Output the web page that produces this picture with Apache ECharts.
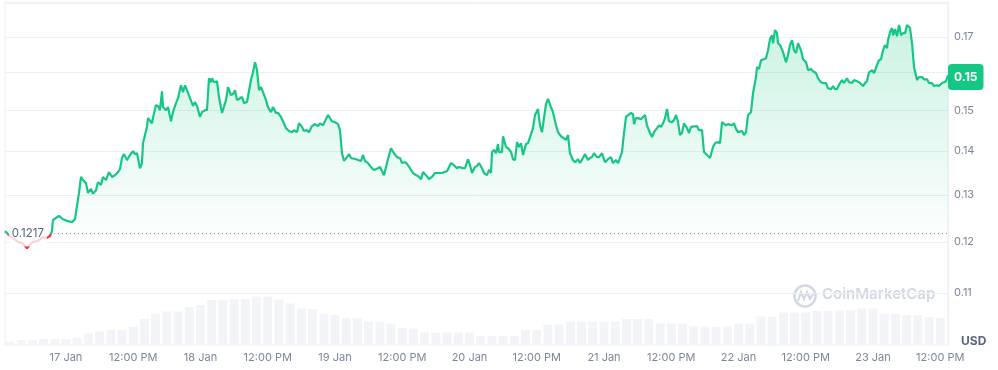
<!DOCTYPE html>
<html><head><meta charset="utf-8">
<script src="https://cdn.jsdelivr.net/npm/echarts@6/dist/echarts.min.js"></script>
<style>html,body{margin:0;padding:0;background:#fff}#c{width:998px;height:370px}</style>
</head><body><div id="c"></div>
<script>
// hours relative to 17 Jan 00:00
const hours = [
-10.88,-9.99,-8.57,-7.85,-6.96,-6.42,-5.89,-5.00,-4.10,-3.39,
-2.86,-2.50,-2.32,-1.78,-1.25,-0.54,0.36,1.07,1.61,1.96,
2.32,2.68,3.03,3.21,3.57,3.93,4.46,4.82,5.35,5.71,
6.25,6.60,7.14,7.67,8.21,8.74,9.28,9.64,9.99,10.35,
10.88,11.42,11.96,12.31,12.67,13.20,13.56,13.74,14.45,14.63,
15.35,15.52,16.06,16.42,16.77,17.13,17.31,17.84,18.20,18.74,
19.09,19.63,19.99,20.52,20.88,21.23,21.59,22.13,22.66,23.02,
23.38,23.91,24.27,24.80,25.16,25.52,25.87,26.05,26.41,26.94,
27.30,27.84,28.01,28.55,28.91,29.44,29.80,30.16,30.51,31.05,
31.41,31.76,32.30,32.48,33.01,33.37,33.73,34.08,34.44,34.80,
35.15,35.69,36.04,36.58,36.94,37.47,37.83,38.36,38.72,39.26,
39.79,40.33,40.68,41.22,41.58,42.11,42.47,43.00,43.36,43.90,
44.43,44.97,45.32,45.86,46.39,46.75,47.47,48.00,48.54,48.89,
49.25,49.61,50.14,50.50,50.86,51.21,51.75,52.10,52.64,53.00,
53.35,53.89,54.60,54.96,55.67,56.03,56.56,56.74,57.28,57.46,
57.99,58.17,58.53,59.06,59.60,59.96,60.49,60.85,61.38,61.92,
62.45,62.81,63.35,63.70,64.24,64.77,65.31,65.84,66.38,67.09,
67.45,67.99,68.70,69.23,69.77,70.13,70.84,71.20,71.73,72.09,
72.45,72.98,73.34,73.70,74.23,74.59,75.13,75.48,75.84,76.02,
76.37,76.73,77.09,77.26,77.80,77.98,78.51,78.87,79.41,79.76,
80.12,80.48,80.83,81.19,81.55,82.08,82.44,82.80,83.33,83.69,
84.22,84.58,84.94,85.29,85.65,86.01,86.54,86.90,87.44,87.79,
88.33,88.68,89.22,89.58,89.93,90.47,90.83,91.36,91.72,92.25,
92.61,93.15,93.50,93.86,94.22,94.75,95.11,95.64,96.18,96.71,
97.25,97.61,98.14,98.50,98.86,99.21,99.57,99.93,100.28,100.82,
101.18,101.35,101.71,102.07,102.60,102.96,103.32,103.67,104.21,104.57,
104.92,105.46,105.81,106.17,106.53,106.89,107.24,107.60,108.13,108.49,
108.85,109.21,109.56,109.92,110.28,110.81,111.17,111.53,111.88,112.60,
112.95,113.49,113.84,114.38,114.92,115.45,115.81,116.34,116.70,117.06,
117.41,117.77,118.13,118.84,119.20,119.55,119.91,120.63,120.98,121.34,
121.70,122.23,122.59,123.12,123.30,123.66,124.02,124.37,124.91,125.27,
125.62,125.98,126.16,126.51,126.87,127.05,127.41,127.94,128.48,128.83,
129.19,129.55,129.90,130.26,130.62,131.15,131.51,132.05,132.40,132.94,
133.29,133.83,134.19,134.72,135.08,135.61,135.97,136.51,136.86,137.22,
137.58,138.11,138.47,138.83,139.36,139.72,140.25,140.61,141.15,141.68,
142.22,142.57,142.93,143.29,143.82,144.18,144.71,145.07,145.43,145.78,
146.14,146.50,146.68,147.03,147.39,147.57,147.93,148.28,148.64,149.00,
149.35,149.71,150.07,150.25,150.60,150.96,151.32,151.85,152.21,152.75,
153.10,153.64,153.99,154.53,154.89,155.42,155.78,156.31,156.67,157.03,
157.38];

const price = [
0.1222,0.1212,0.1200,0.1198,0.1187,0.1194,0.1200,0.1202,0.1210,0.1208,
0.1212,0.1222,0.1245,0.1250,0.1254,0.1247,0.1243,0.1241,0.1247,0.1245,
0.1304,0.1340,0.1333,0.1337,0.1326,0.1304,0.1313,0.1302,0.1310,0.1328,
0.1322,0.1340,0.1333,0.1351,0.1340,0.1344,0.1351,0.1358,0.1384,0.1393,
0.1379,0.1391,0.1400,0.1393,0.1395,0.1360,0.1372,0.1419,0.1459,0.1481,
0.1468,0.1481,0.1514,0.1512,0.1501,0.1550,0.1509,0.1501,0.1509,0.1473,
0.1496,0.1519,0.1532,0.1566,0.1548,0.1566,0.1553,0.1532,0.1512,0.1522,
0.1512,0.1484,0.1496,0.1501,0.1501,0.1585,0.1574,0.1585,0.1574,0.1577,
0.1535,0.1494,0.1491,0.1527,0.1561,0.1540,0.1543,0.1553,0.1527,0.1532,
0.1535,0.1519,0.1522,0.1527,0.1580,0.1601,0.1629,0.1607,0.1553,0.1561,
0.1548,0.1527,0.1509,0.1496,0.1509,0.1494,0.1494,0.1484,0.1473,0.1456,
0.1449,0.1446,0.1451,0.1446,0.1468,0.1459,0.1449,0.1451,0.1446,0.1461,
0.1466,0.1461,0.1468,0.1463,0.1478,0.1489,0.1473,0.1471,0.1466,0.1451,
0.1395,0.1377,0.1386,0.1393,0.1384,0.1388,0.1381,0.1381,0.1377,0.1391,
0.1377,0.1372,0.1360,0.1356,0.1360,0.1363,0.1349,0.1344,0.1372,0.1374,
0.1407,0.1410,0.1395,0.1386,0.1384,0.1372,0.1374,0.1370,0.1360,0.1349,
0.1344,0.1342,0.1335,0.1351,0.1344,0.1335,0.1340,0.1349,0.1349,0.1349,
0.1351,0.1353,0.1372,0.1367,0.1360,0.1363,0.1360,0.1360,0.1381,0.1367,
0.1349,0.1363,0.1365,0.1372,0.1360,0.1349,0.1344,0.1356,0.1349,0.1398,
0.1403,0.1395,0.1417,0.1398,0.1398,0.1436,0.1410,0.1407,0.1398,0.1381,
0.1379,0.1422,0.1410,0.1419,0.1391,0.1417,0.1419,0.1434,0.1456,0.1489,
0.1504,0.1463,0.1446,0.1481,0.1517,0.1530,0.1509,0.1496,0.1463,0.1446,
0.1436,0.1439,0.1427,0.1439,0.1395,0.1379,0.1374,0.1381,0.1372,0.1384,
0.1393,0.1379,0.1384,0.1386,0.1395,0.1386,0.1386,0.1395,0.1374,0.1381,
0.1386,0.1372,0.1379,0.1372,0.1384,0.1398,0.1444,0.1484,0.1486,0.1494,
0.1491,0.1466,0.1481,0.1481,0.1478,0.1484,0.1489,0.1463,0.1444,0.1434,
0.1446,0.1456,0.1463,0.1459,0.1468,0.1481,0.1504,0.1473,0.1471,0.1476,
0.1489,0.1471,0.1439,0.1444,0.1468,0.1456,0.1444,0.1459,0.1459,0.1461,
0.1451,0.1451,0.1398,0.1391,0.1384,0.1410,0.1419,0.1422,0.1419,0.1471,
0.1476,0.1463,0.1466,0.1463,0.1468,0.1454,0.1446,0.1449,0.1439,0.1446,
0.1489,0.1496,0.1545,0.1588,0.1615,0.1610,0.1634,0.1634,0.1640,0.1662,
0.1694,0.1705,0.1682,0.1720,0.1711,0.1682,0.1677,0.1657,0.1629,0.1648,
0.1677,0.1691,0.1662,0.1654,0.1682,0.1662,0.1637,0.1629,0.1607,0.1610,
0.1604,0.1599,0.1585,0.1574,0.1572,0.1572,0.1558,0.1556,0.1564,0.1556,
0.1556,0.1572,0.1580,0.1572,0.1585,0.1574,0.1572,0.1580,0.1577,0.1572,
0.1564,0.1572,0.1577,0.1601,0.1607,0.1599,0.1621,0.1634,0.1637,0.1662,
0.1677,0.1668,0.1691,0.1714,0.1726,0.1705,0.1723,0.1702,0.1735,0.1705,
0.1711,0.1711,0.1735,0.1740,0.1726,0.1682,0.1615,0.1580,0.1588,0.1588,
0.1582,0.1582,0.1572,0.1572,0.1564,0.1566,0.1564,0.1572,0.1574,0.1577,
0.1593];

const volHours = [
-10,-8,-6,-4,-2,0,2,4,6,8,10,12,14,16,18,20,22,24,26,28,30,32,34,36,38,40,
42,44,46,48,50,52,54,56,58,60,62,64,66,68,70,72,74,76,78,80,82,84,86,88,90,
92,94,96,98,100,102,104,106,108,110,112,114,116,118,120,122,124,126,128,130,
132,134,136,138,140,142,144,146,148,150,152,154,156];
const volume = [
7,10,10,12,12,12,15,23,27,30,30,37,52,63,67,67,76,80,90,90,92,92,97,97,91,83,
73,72,63,60,54,53,47,47,43,34,33,25,25,25,25,25,18,18,18,18,30,30,41,41,47,
47,47,47,47,52,52,52,43,43,43,37,37,37,37,43,43,57,57,65,65,65,68,69,69,69,
73,73,63,62,60,60,56,54];

const xTickHours = [0,12,24,36,48,60,72,84,96,108,120,132,144,156];
const yTickPrices = [0.11,0.12,0.13,0.14,0.15,0.16,0.17,0.18];
const openPrice = 0.1217;
const openHour = -2.86;

const L = Math.log;
const priceData = hours.map((h, i) => [h, L(price[i])]);
const volData = volHours.map((h, i) => [h, volume[i]]);
const lastPrice = price[price.length - 1];
const font = 'Inter, "Noto Sans", sans-serif';
const green = '#16c784', red = '#ea3943';

const chart = echarts.init(document.getElementById('c'));
chart.setOption({
  animation: false,
  grid: {left: 5, right: 50, top: 2, bottom: 25, show: true, borderColor: '#eceff3', borderWidth: 1},
  xAxis: {
    type: 'value', min: -10.88, max: 157.38,
    axisLine: {show: false, onZero: false}, axisTick: {show: false}, splitLine: {show: false},
    axisLabel: {
      customValues: xTickHours,
      formatter: v => (Math.round(v) % 24 === 0 ? (17 + Math.round(v) / 24) + ' Jan' : '12:00 PM'),
      color: '#7c869a', fontSize: 11, fontFamily: font, margin: 7
    }
  },
  yAxis: [{
    type: 'value', position: 'right', min: L(0.10069), max: L(0.18043),
    axisLine: {show: true, onZero: false, lineStyle: {color: '#eceff3'}},
    axisTick: {show: false, customValues: yTickPrices.map(L)},
    splitLine: {show: true, lineStyle: {color: '#eceff3'}},
    axisLabel: {
      customValues: yTickPrices.slice(0, 7).map(L),
      formatter: v => Math.exp(v).toFixed(2),
      color: '#7c869a', fontSize: 11, fontFamily: font, margin: 6
    }
  }, {
    type: 'value', min: 0, max: 686, show: false, axisLine: {onZero: false}
  }],
  graphic: [
    {type: 'circle', shape: {cx: 805, cy: 296, r: 10.5}, style: {fill: 'none', stroke: '#d3d9e2', lineWidth: 2.5}, z: 0},
    {type: 'polyline', shape: {points: [[798, 301], [801, 292], [804, 299], [807, 292], [810, 299], [813, 294]]},
      style: {fill: 'none', stroke: '#d3d9e2', lineWidth: 2.2}, z: 0},
    {type: 'text', left: 822, top: 287, style: {text: 'CoinMarketCap', font: '600 15px ' + font, fill: '#d3d9e2'}, z: 0},
    {type: 'text', left: 961, top: 335, style: {text: 'USD', font: 'bold 12px ' + font, fill: '#58667e'}}
  ],
  series: [{
    type: 'bar', xAxisIndex: 0, yAxisIndex: 1, data: volData, barWidth: 9,
    itemStyle: {color: '#f2f4f7'}, silent: true, z: 1
  }, {
    type: 'line', xAxisIndex: 0, yAxisIndex: 0, data: priceData,
    showSymbol: false, symbol: 'none', lineStyle: {width: 2.2, color: green}, z: 3,
    areaStyle: {
      origin: L(openPrice),
      color: new echarts.graphic.LinearGradient(0, 0, 0, 1, [
        {offset: 0, color: 'rgba(22,199,132,0.32)'},
        {offset: 1, color: 'rgba(22,199,132,0.0)'}
      ])
    },
    markLine: {
      silent: true, symbol: ['none', 'none'], animation: false,
      data: [
        [{coord: [openHour, L(openPrice)],
          lineStyle: {color: '#8a93a5', type: [1, 3], width: 1},
          label: {show: true, position: 'start', distance: 3, formatter: String(openPrice),
            color: '#58667e', fontSize: 11.5, fontFamily: font,
            backgroundColor: 'rgba(255,255,255,0.78)', padding: [7, 3]}},
         {coord: [157.38, L(openPrice)]}],
        {yAxis: L(lastPrice), lineStyle: {color: 'rgba(0,0,0,0)', width: 0},
          label: {show: true, position: 'end', distance: 0,
            formatter: (Math.floor(lastPrice * 100) / 100).toFixed(2),
            color: '#fff', fontWeight: 'bold', fontSize: 12, fontFamily: font,
            backgroundColor: green, borderRadius: 4, padding: [7, 6], opacity: 1}}
      ]
    }
  }]
});

// split line colour at the opening price: green above, red below
const baseY = chart.convertToPixel({yAxisIndex: 0}, L(openPrice));
const H = chart.getHeight();
chart.setOption({series: [{}, {
  lineStyle: {color: new echarts.graphic.LinearGradient(0, 0, 0, H, [
    {offset: 0, color: green}, {offset: baseY / H, color: green},
    {offset: baseY / H, color: red}, {offset: 1, color: red}
  ], true)}
}]});
</script>
</body></html>
